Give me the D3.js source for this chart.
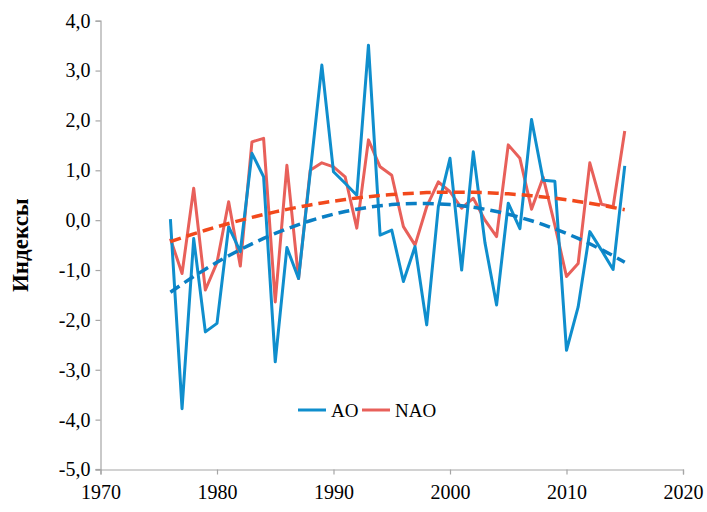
<!DOCTYPE html>
<html>
<head>
<meta charset="utf-8">
<script src="https://cdn.jsdelivr.net/npm/d3@7"></script>
<style>
  html, body { margin: 0; padding: 0; background: #fff; }
  svg { display: block; }
</style>
</head>
<body>
<svg id="chart" width="707" height="512"></svg>
<script>
// Annual index values, 1976–2015
const years = d3.range(1976, 2016);
const ao = [0.02, -3.78, -0.37, -2.24, -2.07, -0.13, -0.63, 1.34, 0.87, -2.84,
            -0.55, -1.17, 0.95, 3.11, 0.97, 0.74, 0.50, 3.51, -0.30, -0.20,
            -1.23, -0.53, -2.10, 0.27, 1.24, -1.00, 1.37, -0.45, -1.70, 0.34,
            -0.17, 2.02, 0.80, 0.78, -2.61, -1.74, -0.23, -0.60, -0.99, 1.09];
const nao = [-0.37, -1.07, 0.64, -1.40, -0.85, 0.37, -0.92, 1.57, 1.64, -1.64,
             1.10, -1.17, 1.00, 1.15, 1.07, 0.87, -0.16, 1.61, 1.07, 0.90,
             -0.13, -0.50, 0.27, 0.77, 0.57, 0.24, 0.44, 0.00, -0.33, 1.51,
             1.24, 0.22, 0.86, -0.10, -1.13, -0.87, 1.15, 0.32, 0.27, 1.79];
const xTicks = [1970, 1980, 1990, 2000, 2010, 2020];
const yTicks = [4, 3, 2, 1, 0, -1, -2, -3, -4, -5];
const seriesNames = ["AO", "NAO"];

const svg = d3.select("#chart");
const x = d3.scaleLinear().domain([1970, 2020]).range([100.5, 683]);
const y = d3.scaleLinear().domain([-5, 4]).range([469.5, 20.7]);

const axisColor = "#a6a6a6";
const font = "'Liberation Serif', 'Times New Roman', serif";

// Second-order polynomial trend by least squares
function quadFit(xs, ys) {
  const m = d3.mean(xs);
  const t = xs.map(v => v - m);
  const s = [0, 0, 0, 0, 0], r = [0, 0, 0];
  t.forEach((ti, i) => {
    for (let k = 0; k < 5; k++) s[k] += Math.pow(ti, k);
    for (let k = 0; k < 3; k++) r[k] += ys[i] * Math.pow(ti, k);
  });
  const A = [[s[0], s[1], s[2]], [s[1], s[2], s[3]], [s[2], s[3], s[4]]];
  const b = r.slice();
  for (let i = 0; i < 3; i++) {
    for (let j = i + 1; j < 3; j++) {
      const f = A[j][i] / A[i][i];
      for (let k = i; k < 3; k++) A[j][k] -= f * A[i][k];
      b[j] -= f * b[i];
    }
  }
  const c = [0, 0, 0];
  for (let i = 2; i >= 0; i--) {
    let v = b[i];
    for (let k = i + 1; k < 3; k++) v -= A[i][k] * c[k];
    c[i] = v / A[i][i];
  }
  return xs.map(v => c[0] + c[1] * (v - m) + c[2] * (v - m) * (v - m));
}

const aoTrend = quadFit(years, ao);
const naoTrend = quadFit(years, nao);

// Axes
const yAxis = d3.axisLeft(y).tickValues(yTicks).tickSize(5).tickPadding(5)
  .tickFormat(d => d3.format(".1f")(d).replace(".", ",").replace("−", "-"));
const gy = svg.append("g").attr("transform", `translate(${x(1970)},0)`).call(yAxis);
const xAxis = d3.axisBottom(x).tickValues(xTicks).tickSize(5).tickPadding(10)
  .tickFormat(d3.format("d"));
const gx = svg.append("g").attr("transform", `translate(0,${y(-5)})`).call(xAxis);

[gx, gy].forEach(g => {
  g.select(".domain").attr("stroke", axisColor).attr("stroke-width", 1.2);
  g.selectAll(".tick line").attr("stroke", axisColor).attr("stroke-width", 1.2);
  g.selectAll(".tick text").attr("fill", "#000").style("font-family", font).style("font-size", "20px");
});
// Short stub of the x axis left of the y axis
svg.append("line").attr("x1", x(1970) - 5).attr("x2", x(1970))
  .attr("y1", y(-5)).attr("y2", y(-5)).attr("stroke", axisColor).attr("stroke-width", 1.2);

// Y axis title
svg.append("text")
  .attr("transform", `translate(28,${y(-0.5)}) rotate(-90)`)
  .attr("text-anchor", "middle")
  .style("font-family", font).style("font-size", "23px").style("font-weight", "bold")
  .text("Индексы");

const line = d3.line().x((d, i) => x(years[i])).y(d => y(d));

// Data series
svg.append("path").datum(nao).attr("d", line)
  .attr("fill", "none").attr("stroke", "#e8605a").attr("stroke-width", 3)
  .attr("stroke-linejoin", "round");
svg.append("path").datum(ao).attr("d", line)
  .attr("fill", "none").attr("stroke", "#0f8ecd").attr("stroke-width", 3)
  .attr("stroke-linejoin", "round");

// Trend lines
svg.append("path").datum(naoTrend).attr("d", line)
  .attr("fill", "none").attr("stroke", "#f2491c").attr("stroke-width", 3.5)
  .attr("stroke-dasharray", "11,6");
svg.append("path").datum(aoTrend).attr("d", line)
  .attr("fill", "none").attr("stroke", "#0a7fc4").attr("stroke-width", 3.5)
  .attr("stroke-dasharray", "11,6");

// Legend
const legend = [
  { name: seriesNames[0], color: "#0f8ecd", x0: 298 },
  { name: seriesNames[1], color: "#e8605a", x0: 362 }
];
const lg = svg.append("g");
legend.forEach(l => {
  lg.append("line").attr("x1", l.x0).attr("x2", l.x0 + 28)
    .attr("y1", 410).attr("y2", 410).attr("stroke", l.color).attr("stroke-width", 3);
  lg.append("text").attr("x", l.x0 + 33).attr("y", 417)
    .style("font-family", font).style("font-size", "19px").text(l.name);
});
</script>
</body>
</html>
